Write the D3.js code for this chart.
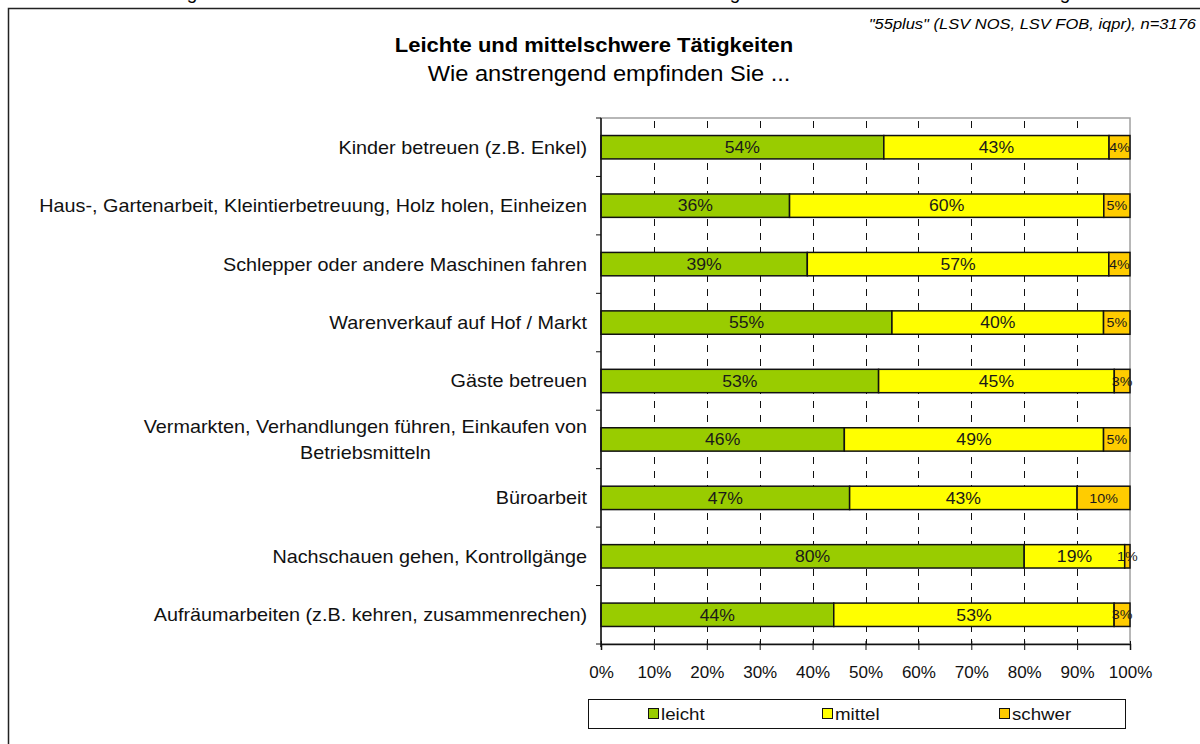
<!DOCTYPE html>
<html>
<head>
<meta charset="utf-8">
<script src="https://cdn.jsdelivr.net/npm/d3@7"></script>
<style>
  html, body { margin: 0; padding: 0; background: #fff; }
  svg { display: block; font-family: "Liberation Sans", Arial, sans-serif; }
</style>
</head>
<body>
<div id="chart"></div>
<script>
// data
const categories = [
  "Kinder betreuen (z.B. Enkel)",
  "Haus-, Gartenarbeit, Kleintierbetreuung, Holz holen, Einheizen",
  "Schlepper oder andere Maschinen fahren",
  "Warenverkauf auf Hof / Markt",
  "Gäste betreuen",
  "Vermarkten, Verhandlungen führen, Einkaufen von|Betriebsmitteln",
  "Büroarbeit",
  "Nachschauen gehen, Kontrollgänge",
  "Aufräumarbeiten (z.B. kehren, zusammenrechen)"
];
const leicht = [54, 36, 39, 55, 53, 46, 47, 80, 44];
const mittel = [43, 60, 57, 40, 45, 49, 43, 19, 53];
const schwer = [4, 5, 4, 5, 3, 5, 10, 1, 3];
const seriesNames = ["leicht", "mittel", "schwer"];
const tickValues = [0, 0.1, 0.2, 0.3, 0.4, 0.5, 0.6, 0.7, 0.8, 0.9, 1];

const colors = { leicht: "#99cc00", mittel: "#ffff00", schwer: "#ffcc00" };

const W = 1200, H = 744;
const plot = { left: 601, right: 1130, top: 118, bottom: 644 };
const SX = 1.1; // the original text is a bit wider than Liberation Sans

const svg = d3.select("#chart").append("svg").attr("width", W).attr("height", H);

// text with a slight horizontal stretch
function stext(parent, x, y, str, size, anchor = "start") {
  return parent.append("text")
    .attr("transform", `translate(${x},${y}) scale(${SX},1)`)
    .attr("text-anchor", anchor)
    .attr("font-size", size)
    .text(str);
}

// outer frame (cut off right/bottom)
svg.append("path")
  .attr("d", `M8.5,${H + 2} V8.5 H${W + 2}`)
  .attr("fill", "none").attr("stroke", "#222").attr("stroke-width", 1.5);

// clipped text line above the frame, only descenders visible
svg.append("g").selectAll("text")
  .data([192, 735, 1065])
  .join("text")
  .attr("x", d => d).attr("y", -1)
  .attr("text-anchor", "middle").attr("font-size", 19)
  .text("g");

// titles
stext(svg, 594, 52, "Leichte und mittelschwere Tätigkeiten", 20, "middle").attr("font-weight", "bold");
stext(svg, 609, 81, "Wie anstrengend empfinden Sie ...", 21.5, "middle");
stext(svg, 1196, 29, "\"55plus\" (LSV NOS, LSV FOB, iqpr), n=3176", 15, "end").attr("font-style", "italic");

// scales
const x = d3.scaleLinear().domain([0, 1]).range([plot.left, plot.right]);
const y = d3.scaleBand().domain(categories).range([plot.top, plot.bottom]).paddingInner(0.6).paddingOuter(0.3);

// rows normalised like a 100% stacked bar
const rows = categories.map((c, i) => {
  const vals = [leicht[i], mittel[i], schwer[i]];
  const total = d3.sum(vals);
  let acc = 0;
  return vals.map((v, k) => {
    const seg = { cat: c, key: seriesNames[k], value: v, x0: acc / total, x1: (acc + v) / total };
    acc += v;
    return seg;
  });
});

// plot area border
svg.append("rect")
  .attr("x", plot.left).attr("y", plot.top)
  .attr("width", plot.right - plot.left).attr("height", plot.bottom - plot.top)
  .attr("fill", "#fff").attr("stroke", "#a0a0a0").attr("stroke-width", 1.5);

// dashed gridlines
svg.append("g").selectAll("line")
  .data(tickValues.slice(1, -1))
  .join("line")
  .attr("x1", d => Math.round(x(d)) + 0.5).attr("x2", d => Math.round(x(d)) + 0.5)
  .attr("y1", plot.top + 3).attr("y2", plot.bottom)
  .attr("stroke", "#111").attr("stroke-width", 1).attr("stroke-dasharray", "7,7");

// bars
svg.append("g").selectAll("g")
  .data(rows)
  .join("g")
  .selectAll("rect")
  .data(d => d)
  .join("rect")
  .attr("x", d => x(d.x0))
  .attr("y", d => y(d.cat))
  .attr("width", d => x(d.x1) - x(d.x0))
  .attr("height", y.bandwidth())
  .attr("fill", d => colors[d.key])
  .attr("stroke", "#111").attr("stroke-width", 1.5);

// value labels
const valG = svg.append("g").attr("fill", "#1a1a1a");
rows.flat().forEach(d => {
  stext(valG, (x(d.x0) + x(d.x1)) / 2, y(d.cat) + y.bandwidth() / 2, d.value + "%",
    d.key === "schwer" ? 13 : 16, "middle").attr("dy", "0.36em");
});

// x axis
const xAxis = svg.append("g")
  .attr("transform", `translate(0,${plot.bottom})`)
  .call(d3.axisBottom(x).tickValues(tickValues).tickFormat(d3.format(".0%")).tickSize(6).tickPadding(16));
xAxis.select(".domain").attr("stroke", "#111").attr("stroke-width", 1.5);
xAxis.selectAll(".tick line").attr("stroke", "#111").attr("y1", -3);
xAxis.selectAll(".tick text").attr("font-size", 17).attr("fill", "#111").attr("font-family", null);

// y axis with ticks at band boundaries
const yAxisG = svg.append("g").attr("transform", `translate(${plot.left},0)`);
yAxisG.append("line")
  .attr("y1", plot.top).attr("y2", plot.bottom + 3)
  .attr("stroke", "#111").attr("stroke-width", 1.5);
const bounds = d3.range(categories.length + 1).map(i => plot.top + i * y.step());
yAxisG.selectAll(".bt")
  .data(bounds)
  .join("line").attr("class", "bt")
  .attr("x1", -5).attr("x2", 0)
  .attr("y1", d => d).attr("y2", d => d)
  .attr("stroke", "#111").attr("stroke-width", 1);

// category labels (one wraps to two centred lines)
const labels = svg.append("g").attr("fill", "#111");
categories.forEach(c => {
  const parts = c.split("|");
  const cy = y(c) + y.bandwidth() / 2;
  if (parts.length === 1) {
    stext(labels, 587, cy, c, 18, "end").attr("dy", "0.36em");
  } else {
    const t1 = stext(labels, 587, cy - 13, parts[0], 18, "end").attr("dy", "0.36em");
    const w1 = t1.node().getComputedTextLength() * SX;
    stext(labels, 587 - w1 / 2, cy + 13, parts[1], 18, "middle").attr("dy", "0.36em");
  }
});

// legend
const legend = svg.append("g");
legend.append("rect").attr("x", 588.5).attr("y", 699.5).attr("width", 537).attr("height", 29)
  .attr("fill", "#fff").attr("stroke", "#111").attr("stroke-width", 1);
const legendX = { leicht: 648, mittel: 822, schwer: 999 };
seriesNames.forEach(s => {
  legend.append("rect").attr("x", legendX[s] + 0.5).attr("y", 708.5).attr("width", 10).attr("height", 10)
    .attr("fill", colors[s]).attr("stroke", "#111").attr("stroke-width", 1);
  stext(legend, legendX[s] + 13, 714, s, 17).attr("dy", "0.36em").attr("fill", "#111");
});
</script>
</body>
</html>
